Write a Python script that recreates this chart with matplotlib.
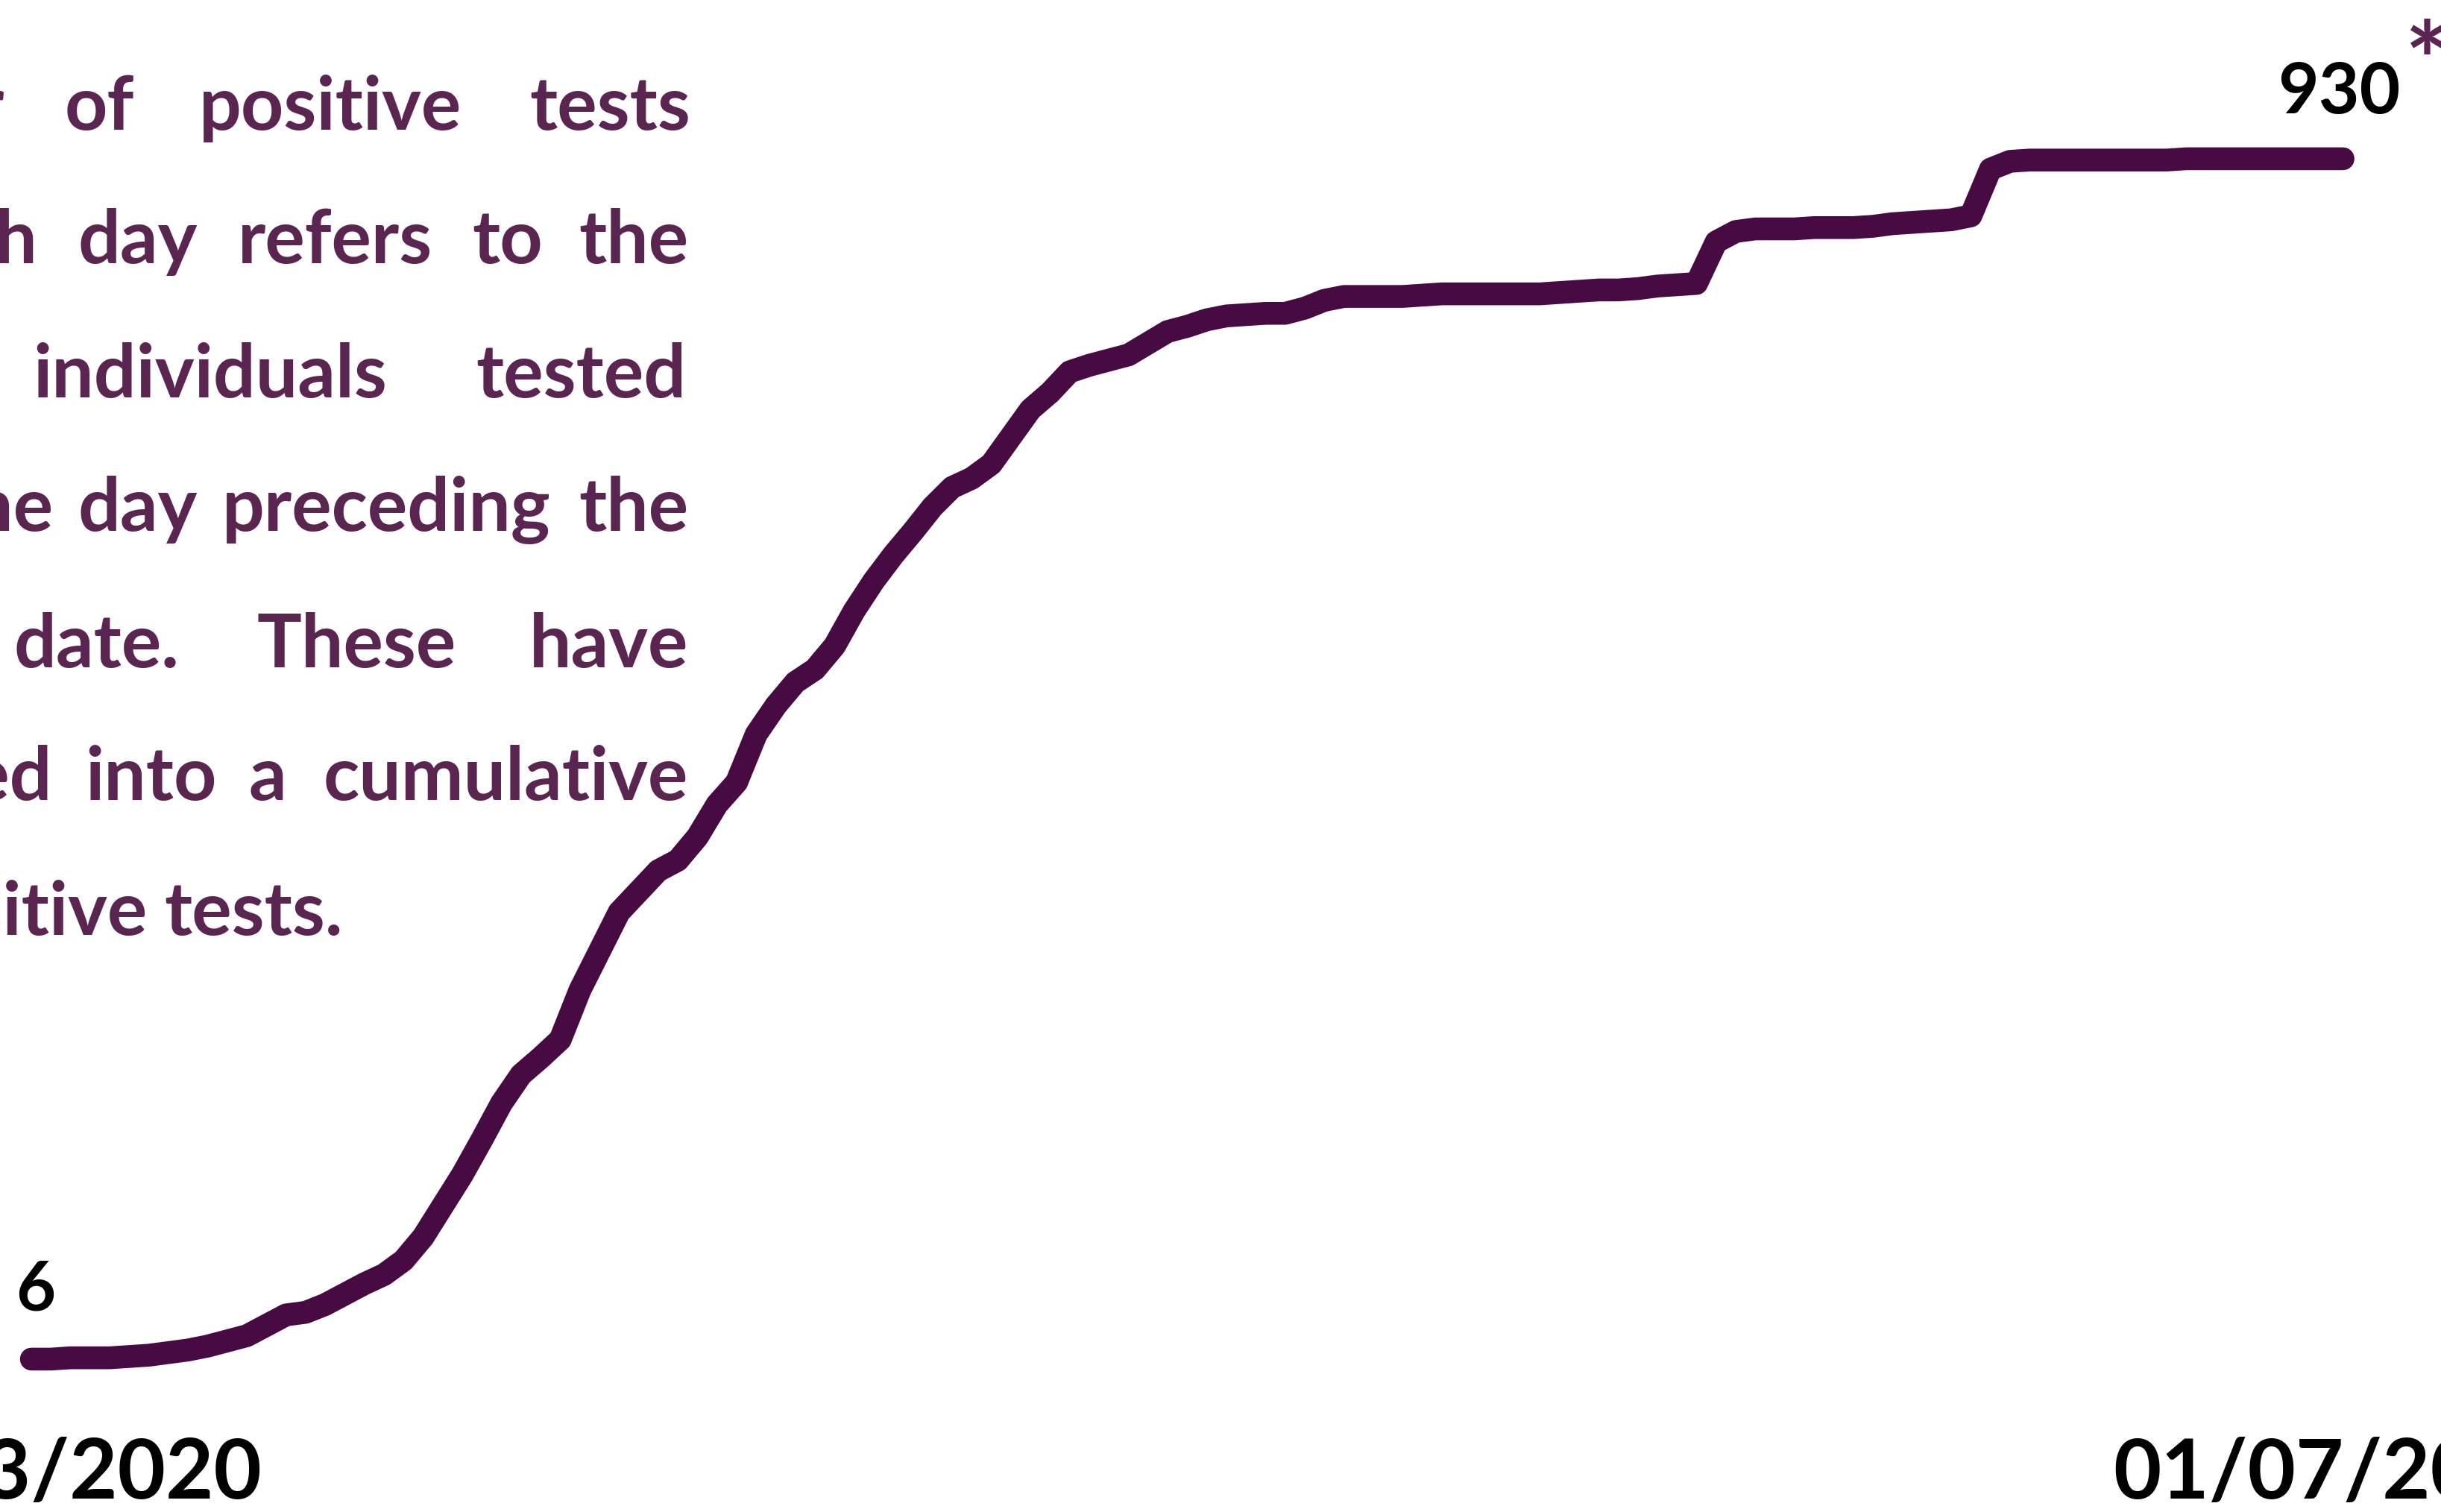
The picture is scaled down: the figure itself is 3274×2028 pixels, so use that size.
import pandas as pd
import matplotlib.pyplot as plt

# daily cumulative positive tests, 05/03/2020 .. 01/07/2020
dates = pd.date_range('2020-03-05', '2020-07-01', freq='D')
cumulative = [
    6, 6, 7, 7, 7, 8, 9, 11, 13, 16,
    20, 24, 32, 40, 42, 48, 56, 64, 71, 82,
    100, 124, 148, 175, 203, 225, 238, 252, 290, 320,
    350, 366, 382, 390, 408, 433, 450, 487, 509, 527,
    537, 555, 582, 605, 625, 643, 662, 677, 684, 695,
    716, 737, 750, 766, 771, 775, 779, 788, 797, 801,
    806, 809, 810, 811, 811, 815, 821, 824, 824, 824,
    824, 825, 826, 826, 826, 826, 826, 826, 827, 828,
    829, 829, 830, 832, 833, 834, 866, 874, 876, 876,
    876, 877, 877, 877, 878, 880, 881, 882, 883, 886,
    922, 928, 929, 929, 929, 929, 929, 929, 929, 929,
    930, 930, 930, 930, 930, 930, 930, 930, 930,
]
start_label = '05/03/2020'
end_label = '01/07/2020'

# justified note, one list of (word, x in px, alignment) per line
note_lines = [
    [('number', 6, 'right'), ('of', 87, 'left'), ('positive', 267, 'left'), ('tests', 926, 'right')],
    [('each', 51, 'right'), ('day', 105, 'left'), ('refers', 319, 'left'), ('to', 633, 'left'), ('the', 923, 'right')],
    [('individuals', 44, 'left'), ('tested', 920, 'right')],
    [('the', 71, 'right'), ('day', 104, 'left'), ('preceding', 298, 'left'), ('the', 923, 'right')],
    [('date.', 19, 'left'), ('These', 344, 'left'), ('have', 923, 'right')],
    [('summed', 70, 'right'), ('into', 114, 'left'), ('a', 333, 'left'), ('cumulative', 923, 'right')],
    [('positive', 198, 'right'), ('tests.', 220, 'left')],
]
baselines = [174, 353, 533, 712, 895, 1073, 1254]

W, H = 3274, 2028
text_col = '#5a2550'
line_col = '#470a42'

plt.rcParams['font.family'] = ['Lato', 'DejaVu Sans']

fig = plt.figure(figsize=(W / 100, H / 100), dpi=100)
ax = fig.add_axes([0, 0, 1, 1])
ax.plot(dates, cumulative, color=line_col, lw=22, solid_capstyle='round', solid_joinstyle='round')

x0 = dates[0] - pd.Timedelta(days=1.6)
x1 = dates[-1] + pd.Timedelta(days=5.0)
ax.set_xlim(x0, x1)
ax.set_ylim(-111.7, 1052.2)
ax.axis('off')

def fx(px):
    return px / W

def fy(py):
    return 1 - py / H

for words, yb in zip(note_lines, baselines):
    for word, xp, ha in words:
        fig.text(fx(xp), fy(yb), word, ha=ha, va='baseline', fontsize=72,
                 fontweight='bold', color=text_col)

fig.text(fx(21), fy(1758), '6', ha='left', va='baseline', fontsize=66, fontweight='bold', color='black')
fig.text(fx(3055), fy(152), '930', ha='left', va='baseline', fontsize=68, fontweight='bold', color='black')
fig.text(fx(3226), fy(132), '*', ha='left', va='baseline', fontsize=100, fontweight='bold', color=text_col)

fig.text(fx(351), fy(2010), start_label, ha='right', va='baseline', fontsize=80, fontweight='bold', color='black')
fig.text(fx(2834), fy(2010), end_label, ha='left', va='baseline', fontsize=80, fontweight='bold', color='black')

fig.savefig('out.png', dpi=100, facecolor='white')
